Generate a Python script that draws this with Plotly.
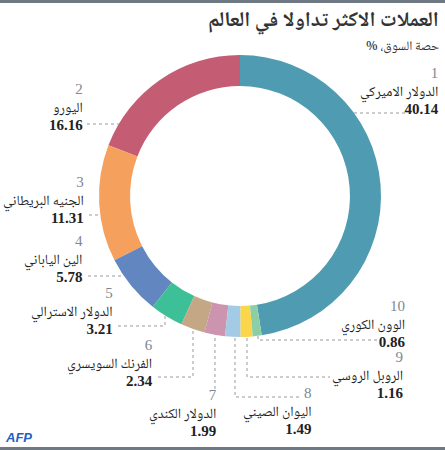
import plotly.graph_objects as go

# data
ranks = ["1", "2", "3", "4", "5", "6", "7", "8", "9", "10"]
currencies = ["الدولار الاميركي", "اليورو", "الجنيه البريطاني", "الين الياباني",
              "الدولار الاسترالي", "الفرنك السويسري", "الدولار الكندي",
              "اليوان الصيني", "الروبل الروسي", "الوون الكوري"]
shares = [40.14, 16.16, 11.31, 5.78, 3.21, 2.34, 1.99, 1.49, 1.16, 0.86]
colors = ["#4f9cb2", "#c45d73", "#f6a05e", "#6286bf", "#3dbf98",
          "#c4a784", "#cc94ae", "#a4cbe6", "#fbd54a", "#8dcfa4"]

W, H = 445, 450
cx, cy, R = 240, 196, 141
AR_FONT = "Noto Naskh Arabic, Noto Sans Arabic, DejaVu Sans"
NUM_FONT = "Liberation Serif"


def px(x):
    return x / W


def py(y):
    return 1 - y / H


# counterclockwise + rotation 0: USD ends at 12 o'clock, EUR starts there going left
fig = go.Figure(go.Pie(
    values=shares, labels=currencies, sort=False, direction="counterclockwise",
    rotation=0, hole=0.78, marker=dict(colors=colors, line=dict(width=0)),
    textinfo="none", hoverinfo="label+value",
    domain=dict(x=[px(cx - R), px(cx + R)], y=[py(cy + R), py(cy - R)]),
    showlegend=False,
))

# label block positions (right edge x, y of block centre), and leader paths
label_pos = [(440, 91), (84, 107), (85, 200), (84, 259), (114, 311),
             (154, 363), (218, 413), (312, 411), (405, 375), (407, 324)]
leaders = [
    [(405, 113), (352, 113)],
    [(87, 124), (119, 124)],
    [(89, 215), (100, 215)],
    [(88, 276), (124, 276)],
    [(118, 326), (165, 326), (165, 316)],
    [(158, 377), (193, 377), (193, 330)],
    [(215, 338), (215, 390)],
    [(235, 338), (235, 397), (300, 397)],
    [(247, 338), (247, 377), (330, 377)],
    [(258, 336), (258, 340), (380, 340)],
]

ann = []
for i, (x, y) in enumerate(label_pos):
    txt = ("<span style='font-family:%s;color:#7d8894;font-size:15px'>%s</span><br>%s<br>"
           "<span style='font-family:%s;font-weight:bold;font-size:15px'>%.2f</span>"
           % (NUM_FONT, ranks[i], currencies[i], NUM_FONT, shares[i]))
    ann.append(dict(x=px(x), y=py(y), text=txt, xanchor="right", yanchor="middle", align="right",
                    font=dict(family=AR_FONT, size=14, color="#222")))

ann.append(dict(x=px(440), y=py(22), text="<b>العملات الاكثر تداولا في العالم</b>",
                xanchor="right", yanchor="middle",
                font=dict(family=AR_FONT, size=21, color="#333")))
ann.append(dict(x=px(440), y=py(47), text="\u200fحصة السوق، %\u200f",
                xanchor="right", yanchor="middle",
                font=dict(family=AR_FONT, size=13, color="#333")))
ann.append(dict(x=px(4), y=py(437), text="<b><i>AFP</i></b>", xanchor="left", yanchor="middle",
                font=dict(family="Liberation Sans", size=13, color="#1f5fc4")))
for a in ann:
    a.update(xref="paper", yref="paper", showarrow=False, borderpad=0)

shapes = []
for path in leaders:
    d = "M " + " L ".join("%.4f,%.4f" % (px(x), py(y)) for x, y in path)
    shapes.append(dict(type="path", path=d, xref="paper", yref="paper",
                       line=dict(color="#9a9a9a", width=1, dash="dot")))
# top and bottom grey bars
shapes.append(dict(type="rect", x0=0, x1=1, y0=py(3), y1=1, xref="paper", yref="paper",
                   line=dict(width=0), fillcolor="#6f7984"))
shapes.append(dict(type="rect", x0=0, x1=1, y0=0, y1=py(447), xref="paper", yref="paper",
                   line=dict(width=0), fillcolor="#6f7984"))

fig.update_layout(width=W, height=H, margin=dict(l=0, r=0, t=0, b=0),
                  paper_bgcolor="white", plot_bgcolor="white",
                  annotations=ann, shapes=shapes)

fig.write_html("out.html", config={"displayModeBar": False},
               post_script="document.body.style.margin='0';")
